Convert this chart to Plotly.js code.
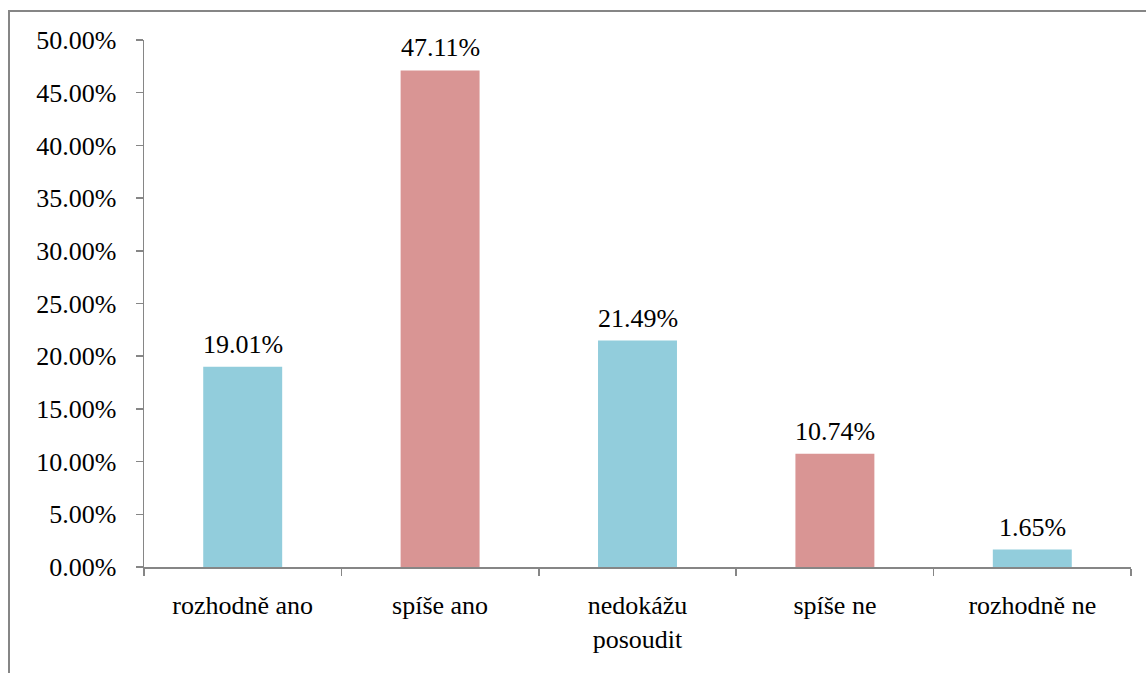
<!DOCTYPE html>
<html>
<head>
<meta charset="utf-8">
<script src="https://cdn.plot.ly/plotly-3.0.1.min.js"></script>
<style>
body{margin:0;padding:0;background:#fff;overflow:hidden;}
#frame{position:absolute;left:8px;top:10px;width:1300px;height:800px;border:2px solid #868686;box-sizing:border-box;}
#chart{position:absolute;left:0;top:0;width:1146px;height:673px;}
#chart text{font-family:"Liberation Serif",serif !important;}
</style>
</head>
<body>
<div id="frame"></div>
<div id="chart"></div>
<script>
const categories = ["rozhodně ano", "spíše ano", "nedokážu<br>posoudit", "spíše ne", "rozhodně ne"];
const values = [0.1901, 0.4711, 0.2149, 0.1074, 0.0165];
const barColors = ["#92CDDC", "#D99594", "#92CDDC", "#D99594", "#92CDDC"];

const fontFam = "Liberation Serif";
const fontSize = 26;

const trace = {
  type: "bar",
  x: categories,
  y: values,
  marker: {color: barColors},
  hoverinfo: "skip"
};

const annotations = categories.map((c, i) => ({
  x: c, y: values[i], xref: "x", yref: "y",
  text: (values[i] * 100).toFixed(2) + "%",
  showarrow: false, yanchor: "bottom", yshift: 6,
  font: {family: fontFam, size: fontSize, color: "#000"}
}));

const layout = {
  width: 1146, height: 673,
  margin: {l: 144, r: 15, t: 40, b: 106},
  paper_bgcolor: "rgba(0,0,0,0)", plot_bgcolor: "rgba(0,0,0,0)",
  showlegend: false,
  bargap: 0.6,
  font: {family: fontFam, size: fontSize, color: "#000"},
  xaxis: {
    type: "category",
    showline: true, linecolor: "#868686", linewidth: 1.5,
    ticks: "outside", tickson: "boundaries", ticklen: 7, tickcolor: "#868686", tickwidth: 1.5,
    showgrid: false, zeroline: false,
    tickfont: {family: fontFam, size: fontSize, color: "#000"},
    ticklabelstandoff: 14
  },
  yaxis: {
    range: [0, 0.5], dtick: 0.05, tick0: 0, tickformat: ".2%",
    showline: true, linecolor: "#868686", linewidth: 1.5,
    ticks: "outside", ticklen: 7, tickcolor: "#868686", tickwidth: 1.5,
    showgrid: false, zeroline: false,
    tickfont: {family: fontFam, size: fontSize, color: "#000"},
    ticklabelstandoff: 14
  },
  annotations: annotations
};

Plotly.newPlot("chart", [trace], layout, {staticPlot: true});
</script>
</body>
</html>
